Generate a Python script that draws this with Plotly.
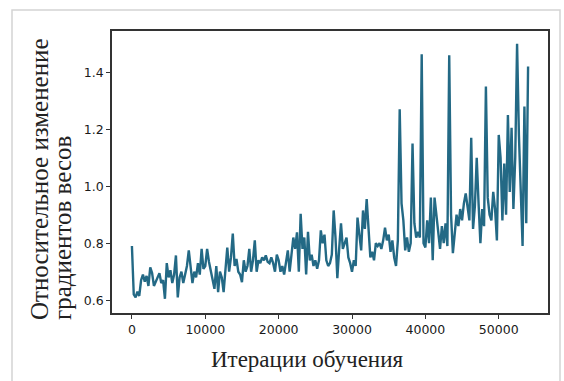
import plotly.graph_objects as go

step = 250
values = [
    # 0 - 9750
    0.79, 0.62, 0.61, 0.63, 0.615, 0.67, 0.69, 0.665, 0.685, 0.65,
    0.715, 0.695, 0.65, 0.665, 0.68, 0.695, 0.66, 0.67, 0.605, 0.73,
    0.68, 0.705, 0.66, 0.69, 0.757, 0.61, 0.68, 0.70, 0.66, 0.685,
    0.72, 0.775, 0.72, 0.66, 0.70, 0.68, 0.73, 0.69, 0.78, 0.71,
    # 10000 - 19750
    0.72, 0.78, 0.735, 0.70, 0.675, 0.64, 0.72, 0.628, 0.70, 0.68,
    0.628, 0.72, 0.785, 0.70, 0.75, 0.834, 0.72, 0.745, 0.70, 0.69,
    0.663, 0.74, 0.70, 0.72, 0.78, 0.70, 0.74, 0.81, 0.70, 0.74,
    0.73, 0.75, 0.74, 0.757, 0.735, 0.73, 0.75, 0.73, 0.70, 0.76,
    # 20000 - 29750
    0.74, 0.70, 0.72, 0.69, 0.74, 0.775, 0.70, 0.76, 0.82, 0.78,
    0.838, 0.70, 0.903, 0.78, 0.82, 0.69, 0.84, 0.74, 0.76, 0.72,
    0.74, 0.71, 0.74, 0.845, 0.80, 0.83, 0.74, 0.72, 0.73, 0.76,
    0.915, 0.82, 0.677, 0.78, 0.87, 0.78, 0.80, 0.82, 0.75, 0.73,
    # 30000 - 39750
    0.70, 0.74, 0.72, 0.89, 0.83, 0.775, 0.915, 0.85, 0.955, 0.85,
    0.75, 0.77, 0.74, 0.80, 0.79, 0.80, 0.78, 0.81, 0.855, 0.81,
    0.83, 0.77, 0.81, 0.75, 0.72, 0.81, 1.27, 0.94, 0.88, 0.775,
    0.82, 0.77, 0.80, 1.15, 0.87, 0.82, 0.84, 0.82, 1.463, 0.80,
    # 40000 - 49750
    0.785, 0.88, 0.80, 0.96, 0.74, 0.96, 0.90, 0.84, 0.78, 0.86,
    0.80, 0.87, 0.79, 1.46, 0.90, 0.765, 0.84, 0.90, 0.86, 0.92,
    0.88, 0.94, 0.975, 0.92, 0.88, 1.17, 0.85, 0.93, 1.10, 0.94,
    0.80, 0.92, 0.86, 1.35, 0.96, 0.90, 0.88, 0.98, 0.92, 0.81,
    # 50000 - 54000
    1.18, 1.10, 0.88, 1.08, 0.90, 1.25, 0.98, 1.205, 0.92, 1.10,
    1.50, 1.18, 0.95, 0.79, 1.28, 0.87, 1.42,
]
iterations = [i * step for i in range(len(values))]

x_ticks = [0, 10000, 20000, 30000, 40000, 50000]
y_ticks = [0.6, 0.8, 1.0, 1.2, 1.4]

x_title = "Итерации обучения"
y_title_1 = "Относительное изменение"
y_title_2 = "градиентов весов"

W, H = 564, 381
L, R, T, B = 112, 548, 31, 313
pw, ph = R - L, B - T

def px(x):
    return (x - L) / pw

def py(y):
    return (B - y) / ph

fig = go.Figure(go.Scatter(
    x=iterations, y=values, mode="lines",
    line=dict(color="#236985", width=2.4),
))

axis_common = dict(
    showline=True, mirror=True, linecolor="#333333", linewidth=1.5,
    ticks="outside", ticklen=4, tickwidth=1.2, tickcolor="#333333",
    showgrid=False, zeroline=False,
    tickfont=dict(family="DejaVu Sans", size=12.5, color="#1a1a1a"),
)

fig.update_layout(
    width=W, height=H,
    margin=dict(l=L, r=W - R, t=T, b=H - B),
    paper_bgcolor="white", plot_bgcolor="white",
    showlegend=False,
    xaxis=dict(range=[-2715, 56715], tickvals=x_ticks,
               ticktext=[str(v) for v in x_ticks], **axis_common),
    yaxis=dict(range=[0.555, 1.545], tickvals=y_ticks,
               ticktext=[f"{v:.1f}" for v in y_ticks], **axis_common),
    shapes=[dict(type="rect", xref="paper", yref="paper",
                 x0=px(12), x1=px(560), y0=py(390), y1=py(10),
                 line=dict(color="#d4d4d4", width=1.5), layer="below")],
    annotations=[
        dict(text=x_title, xref="paper", yref="paper", x=px(307), y=py(359),
             xanchor="center", yanchor="middle", showarrow=False,
             font=dict(family="Liberation Serif", size=23, color="#222222")),
        dict(text=y_title_1, xref="paper", yref="paper", x=px(39), y=py(322),
             xanchor="center", yanchor="bottom", textangle=-90, showarrow=False,
             font=dict(family="Liberation Serif", size=25, color="#222222")),
        dict(text=y_title_2, xref="paper", yref="paper", x=px(62), y=py(322),
             xanchor="center", yanchor="bottom", textangle=-90, showarrow=False,
             font=dict(family="Liberation Serif", size=25, color="#222222")),
    ],
)

fig.write_html("out.html",
               config={"displayModeBar": False},
               post_script="document.body.style.margin='0';document.body.style.overflow='hidden';")
